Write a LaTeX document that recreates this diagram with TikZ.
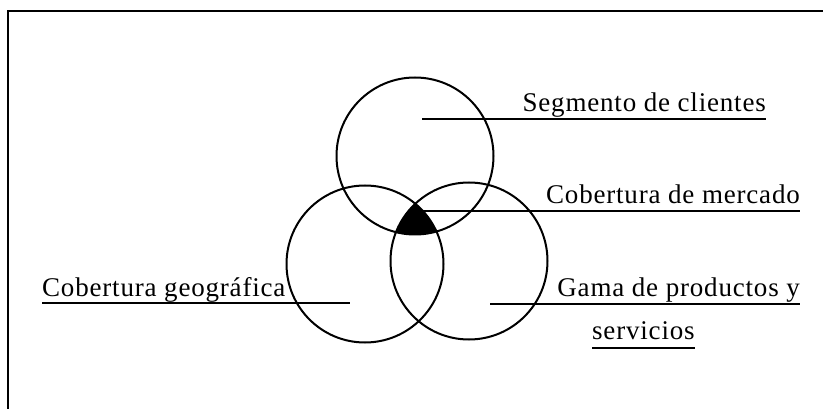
\documentclass[tikz,border=0pt]{standalone}
\usepackage{fontspec}
\newfontfamily\lblfont{Liberation Serif}[LetterSpace=3]
\usetikzlibrary{positioning,calc}
\tikzset{
  zona/.style={circle, draw, line width=2pt, minimum size=157pt, inner sep=0pt},
  etiqueta/.style={font=\lblfont\fontsize{27}{32}\selectfont, inner sep=0pt},
  raya/.style={line width=1.5pt}
}
\begin{document}
\begin{tikzpicture}[x=1pt,y=-1pt]
  \useasboundingbox (0,0) rectangle (823,409);
  % marco
  \draw[line width=1.4pt] (823,11) -- (8,11) -- (8,409);

  % circulos
  \node[zona] (seg) at (415,156) {};
  \node[zona] (geo) at (365,264) {};
  \node[zona] (gam) at (469,261) {};

  % interseccion de los tres
  \begin{scope}
    \clip (seg.center) circle[radius=78.5pt];
    \clip (geo.center) circle[radius=78.5pt];
    \fill (gam.center) circle[radius=78.5pt];
  \end{scope}

  % etiquetas
  \node[etiqueta, anchor=base east] (segtxt) at (766,112) {Segmento de clientes};
  \coordinate (segin) at (422,119);
  \draw[raya] (segin) -- (segin -| segtxt.east);

  \node[etiqueta, anchor=base east] (mertxt) at (800,204) {Cobertura de mercado};
  \coordinate (merin) at (415,211);
  \draw[raya] (merin) -- (merin -| mertxt.east);

  \node[etiqueta, anchor=base east] (gamtxt) at (800,297) {Gama de productos y};
  \coordinate (gamin) at (490,304);
  \draw[raya] (gamin) -- (gamin -| gamtxt.east);
  \node[etiqueta, anchor=base west] (servtxt) at (592,339) {servicios};
  \draw[raya] ([yshift=-9pt]servtxt.base west) -- ([yshift=-9pt]servtxt.base east);

  \node[etiqueta, anchor=base west] (geotxt) at (42,296) {Cobertura geográfica};
  \coordinate (geoin) at (350,303);
  \draw[raya] (geoin -| geotxt.west) -- (geoin);
\end{tikzpicture}
\end{document}
